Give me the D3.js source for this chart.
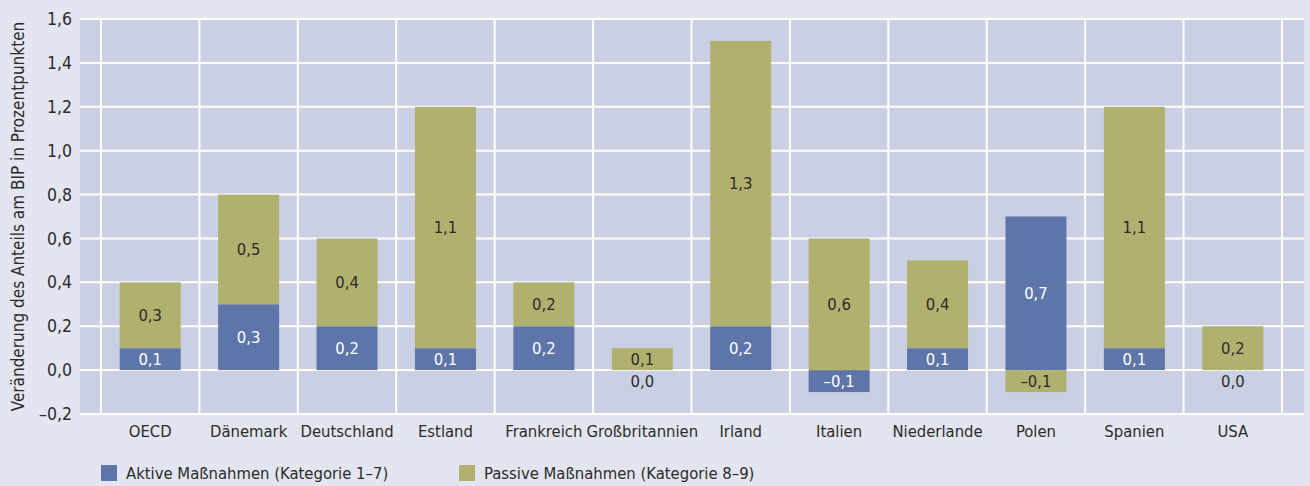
<!DOCTYPE html>
<html>
<head>
<meta charset="utf-8">
<script src="https://cdn.jsdelivr.net/npm/d3@7"></script>
<style>
  body { margin: 0; background: #e3e5f0; }
  svg { display: block; }
  text { font-family: "DejaVu Sans Condensed", "Liberation Sans Narrow", sans-serif; font-stretch: condensed; fill: #2b2b2b; }
</style>
</head>
<body>
<div id="chart"></div>
<script>
// categories and values
var countries = ["OECD", "Dänemark", "Deutschland", "Estland", "Frankreich", "Großbritannien",
  "Irland", "Italien", "Niederlande", "Polen", "Spanien", "USA"];
var aktive = [0.1, 0.3, 0.2, 0.1, 0.2, 0.0, 0.2, -0.1, 0.1, 0.7, 0.1, 0.0];
var passive = [0.3, 0.5, 0.4, 1.1, 0.2, 0.1, 1.3, 0.6, 0.4, -0.1, 1.1, 0.2];
var yTicks = [-0.2, 0, 0.2, 0.4, 0.6, 0.8, 1.0, 1.2, 1.4, 1.6];
var seriesNames = ["Aktive Maßnahmen (Kategorie 1–7)", "Passive Maßnahmen (Kategorie 8–9)"];
var colors = ["#5e75a9", "#b0b16f"];

var width = 1310, height = 486;
var plot = { left: 80, right: 1304, top: 19, bottom: 414 };

var svg = d3.select("#chart").append("svg")
  .attr("width", width)
  .attr("height", height);

var x = d3.scaleBand().domain(countries).range([101, 1282]).paddingInner(0);
var y = d3.scaleLinear().domain([-0.2, 1.6]).range([plot.bottom, plot.top]);

var fmt = function (v) {
  return (v < 0 ? "–" : "") + d3.format(".1f")(Math.abs(v)).replace(".", ",");
};

// plot background
svg.append("rect")
  .attr("x", plot.left).attr("y", plot.top)
  .attr("width", plot.right - plot.left).attr("height", plot.bottom - plot.top)
  .attr("fill", "#cacfe3");

// horizontal grid
svg.append("g").selectAll("line")
  .data(yTicks)
  .join("line")
  .attr("x1", plot.left).attr("x2", plot.right)
  .attr("y1", d => y(d)).attr("y2", d => y(d))
  .attr("stroke", "#ffffff").attr("stroke-width", 2);

// vertical separators
var seps = countries.map(c => x(c)).concat([x.range()[1]]);
svg.append("g").selectAll("line")
  .data(seps)
  .join("line")
  .attr("x1", d => d).attr("x2", d => d)
  .attr("y1", plot.top).attr("y2", plot.bottom)
  .attr("stroke", "#ffffff").attr("stroke-width", 2);

// stacked data (positive and negative stacked apart)
var table = countries.map((c, i) => ({ country: c, aktive: aktive[i], passive: passive[i] }));
var stack = d3.stack().keys(["aktive", "passive"]).offset(d3.stackOffsetDiverging);
var layers = stack(table);

var barW = 61;
var barOff = (x.bandwidth() - barW) / 2;

var gBars = svg.append("g");
layers.forEach((layer, li) => {
  gBars.append("g").selectAll("rect")
    .data(layer)
    .join("rect")
    .attr("x", d => x(d.data.country) + barOff)
    .attr("width", barW)
    .attr("y", d => y(Math.max(d[0], d[1])))
    .attr("height", d => Math.abs(y(d[0]) - y(d[1])))
    .attr("fill", colors[li]);
});

// value labels
layers.forEach((layer, li) => {
  svg.append("g").selectAll("text")
    .data(layer)
    .join("text")
    .attr("x", d => x(d.data.country) + x.bandwidth() / 2)
    .attr("y", d => {
      var v = d.data[layer.key];
      var mid = v === 0 ? -0.05 : (d[0] + d[1]) / 2;
      return y(mid);
    })
    .attr("dy", "0.35em")
    .attr("text-anchor", "middle")
    .attr("font-size", 16.5)
    .style("fill", d => (li === 0 && d.data[layer.key] !== 0) ? "#ffffff" : "#2b2b2b")
    .text(d => fmt(d.data[layer.key]));
});

// y tick labels
svg.append("g").selectAll("text")
  .data(yTicks)
  .join("text")
  .attr("x", 72)
  .attr("y", d => y(d))
  .attr("dy", "0.35em")
  .attr("text-anchor", "end")
  .attr("font-size", 17.5)
  .text(d => fmt(d));

// x labels
svg.append("g").selectAll("text")
  .data(countries)
  .join("text")
  .attr("x", d => x(d) + x.bandwidth() / 2)
  .attr("y", 431)
  .attr("dy", "0.35em")
  .attr("text-anchor", "middle")
  .attr("font-size", 16.5)
  .text(d => d);

// y axis title
svg.append("text")
  .attr("transform", "translate(18," + ((plot.top + plot.bottom) / 2) + ") rotate(-90)")
  .attr("dy", "0.35em")
  .attr("text-anchor", "middle")
  .attr("font-size", 17)
  .text("Veränderung des Anteils am BIP in Prozentpunkten");

// legend
var legendX = [101, 459];
var legend = svg.append("g").selectAll("g")
  .data(seriesNames)
  .join("g")
  .attr("transform", (d, i) => "translate(" + legendX[i] + ",465)");
legend.append("rect")
  .attr("width", 16).attr("height", 16)
  .attr("fill", (d, i) => colors[i]);
legend.append("text")
  .attr("x", 25).attr("y", 8)
  .attr("dy", "0.35em")
  .attr("font-size", 16.5)
  .text(d => d);
</script>
</body>
</html>
